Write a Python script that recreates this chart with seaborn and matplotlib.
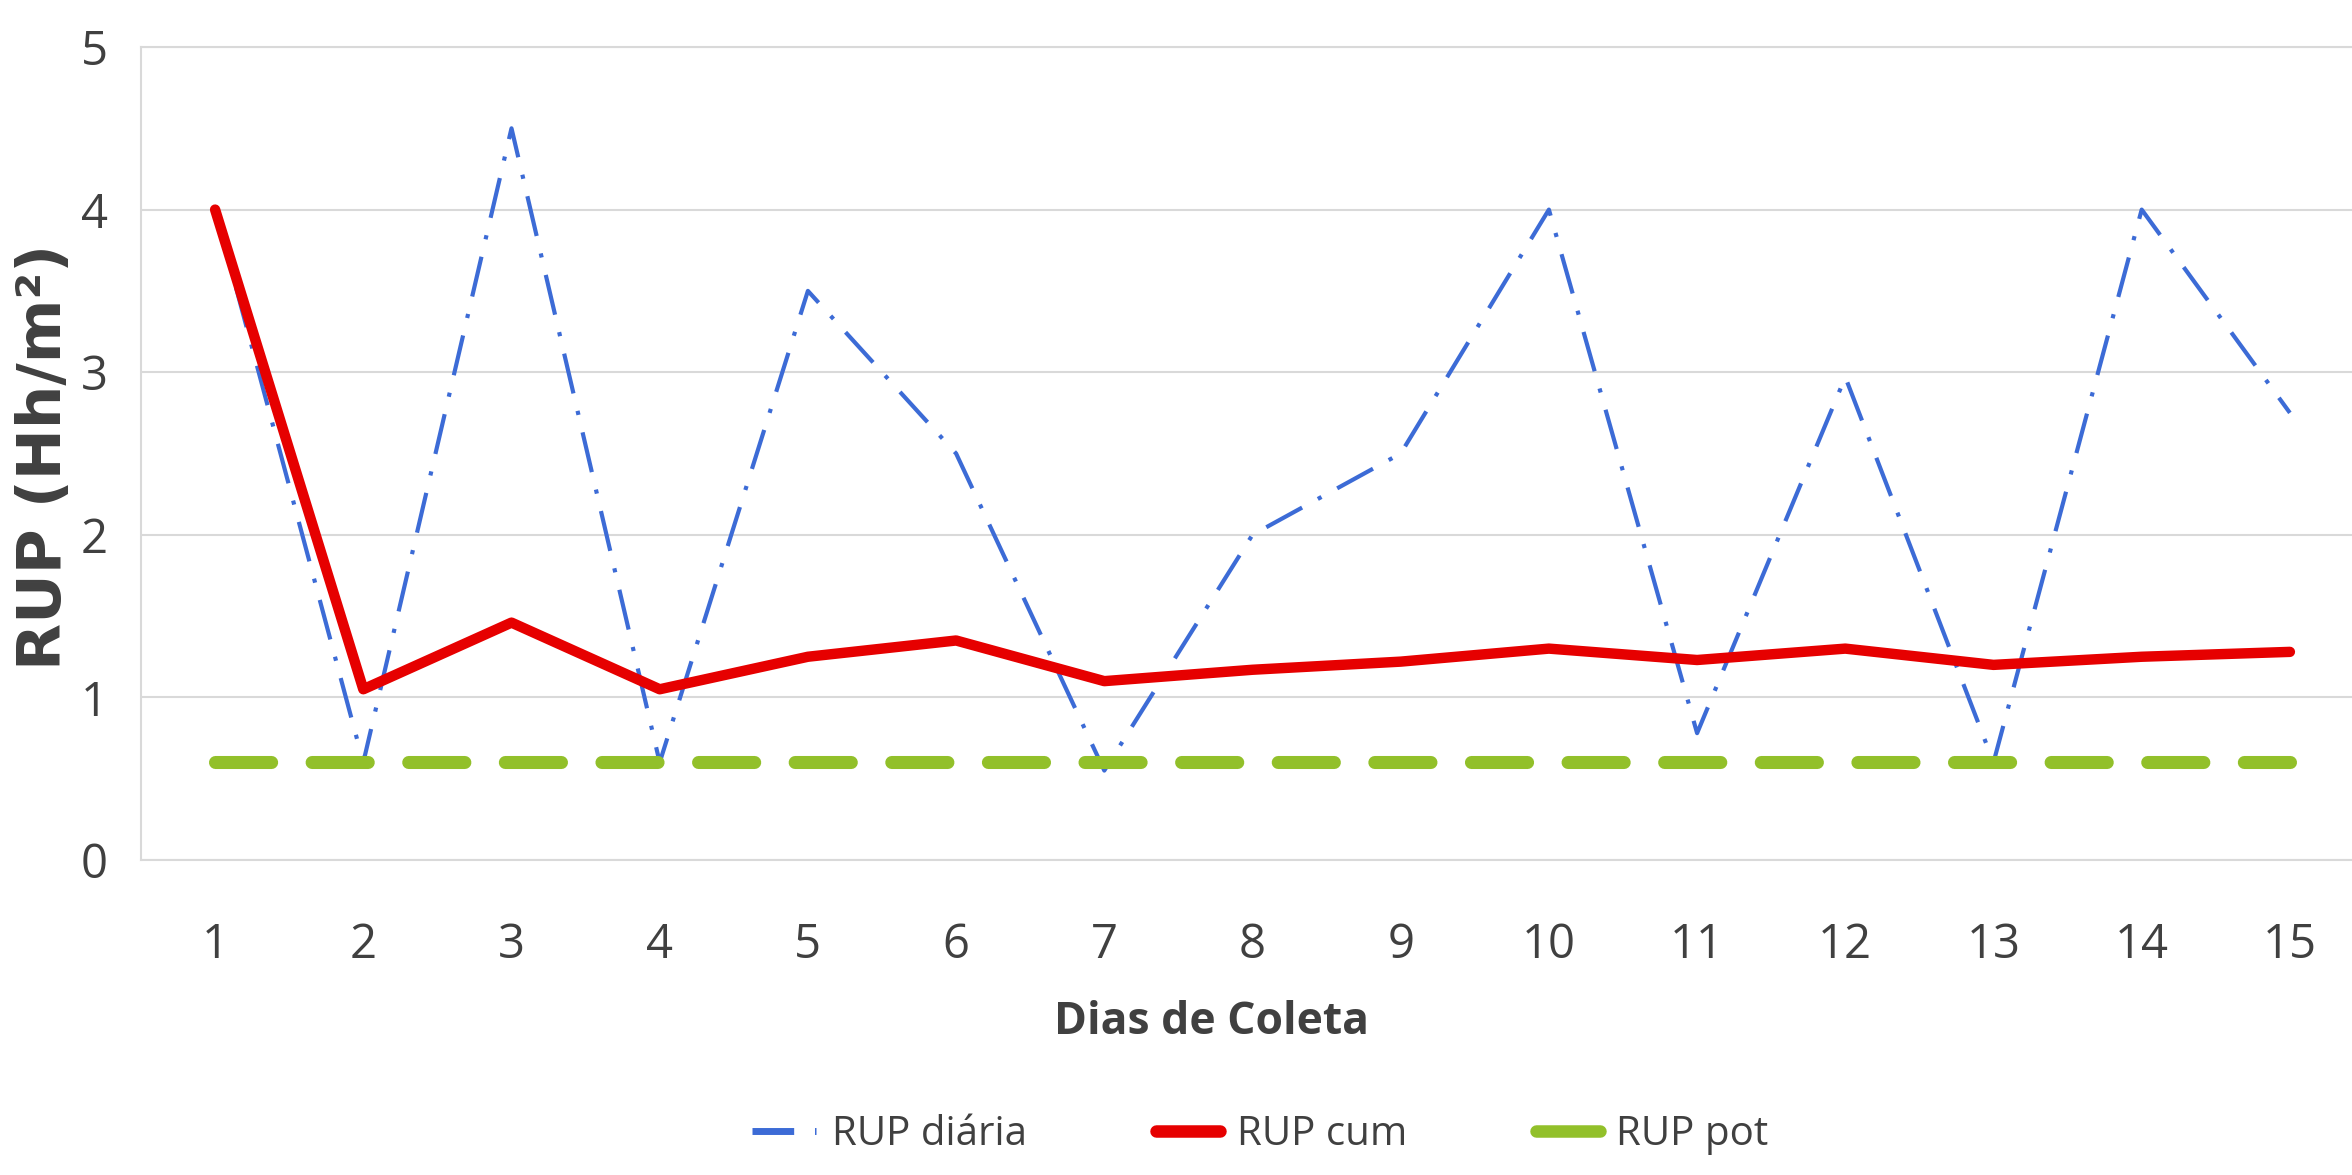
import matplotlib
matplotlib.use("Agg")
import matplotlib.pyplot as plt
import seaborn as sns
from matplotlib.lines import Line2D
from matplotlib import font_manager

dias = list(range(1, 16))
rup_diaria = [4.0, 0.6, 4.5, 0.6, 3.5, 2.5, 0.55, 2.0, 2.5, 4.0, 0.78, 2.97, 0.6, 4.0, 2.75]
rup_cum = [4.0, 1.05, 1.46, 1.05, 1.25, 1.35, 1.1, 1.17, 1.22, 1.3, 1.23, 1.3, 1.2, 1.25, 1.28]
rup_pot = [0.6] * 15
series_names = ["RUP diária", "RUP cum", "RUP pot"]
yticks = [0, 1, 2, 3, 4, 5]

sns.set_theme(style="white")
names = {f.name for f in font_manager.fontManager.ttflist}
narrow = "Liberation Sans Narrow" if "Liberation Sans Narrow" in names else "Open Sans"
plt.rcParams['font.family'] = [narrow, 'DejaVu Sans']

fig = plt.figure(figsize=(23.52, 11.75), dpi=100)
ax = fig.add_axes([141/2352, 1-860/1175, 2223/2352, (860-47)/1175])

blue = "#3C6BD6"
red = "#E60000"
green = "#92C02A"

sns.lineplot(x=dias, y=rup_diaria, ax=ax, color=blue, linewidth=3, zorder=3)
sns.lineplot(x=dias, y=rup_cum, ax=ax, color=red, linewidth=7.5, zorder=4)
sns.lineplot(x=dias, y=rup_pot, ax=ax, color=green, linewidth=9.4, zorder=5)
l_blue, l_red, l_green = ax.lines[-3:]
l_blue.set_linestyle((0, (9.8, 4.3, 1, 4.3)))
l_blue.set_dash_capstyle("butt")
l_red.set_solid_joinstyle("round")
l_red.set_solid_capstyle("round")
l_green.set_linestyle((0, (4.3, 3.1)))
l_green.set_dash_capstyle("round")

ax.set_xlim(0.5, 15.5)
ax.set_ylim(0, 5)
ax.set_yticks(yticks)
ax.set_xticks(dias)
ax.set_xticklabels([str(d) for d in dias])
ax.tick_params(axis="x", length=0, pad=44, labelsize=34, colors="#404040")
ax.tick_params(axis="y", length=0, pad=24, labelsize=34, colors="#404040")
ax.grid(axis="y", color="#D9D9D9", linewidth=1.5)
ax.grid(axis="x", visible=False)
for s in ax.spines.values():
    s.set_color("#D9D9D9")
    s.set_linewidth(1.5)
ax.set_xlabel("")
ax.set_ylabel("")

fig.text(1212/2352, 1-1022/1175, "Dias de Coleta", ha="center", va="center",
         fontsize=32, fontweight="bold", color="#404040")
fig.text(45/2352, 1-457/1175, "RUP (Hh/m²)", ha="center", va="center", rotation=90,
         fontsize=44, fontweight="bold", color="#404040", family=["DejaVu Sans"])

handles = [
    Line2D([], [], color=blue, linewidth=5, linestyle=(0, (6, 3, 1, 3))),
    Line2D([], [], color=red, linewidth=9, solid_capstyle="round"),
    Line2D([], [], color=green, linewidth=9, solid_capstyle="round"),
]
fig.legend(handles, series_names, loc="center", bbox_to_anchor=(1260/2352, 1-1135/1175),
           ncol=3, frameon=False, fontsize=29, handlelength=1.6, columnspacing=3.2,
           handletextpad=0.4, labelcolor="#404040")

fig.savefig("out.png", dpi=100)
